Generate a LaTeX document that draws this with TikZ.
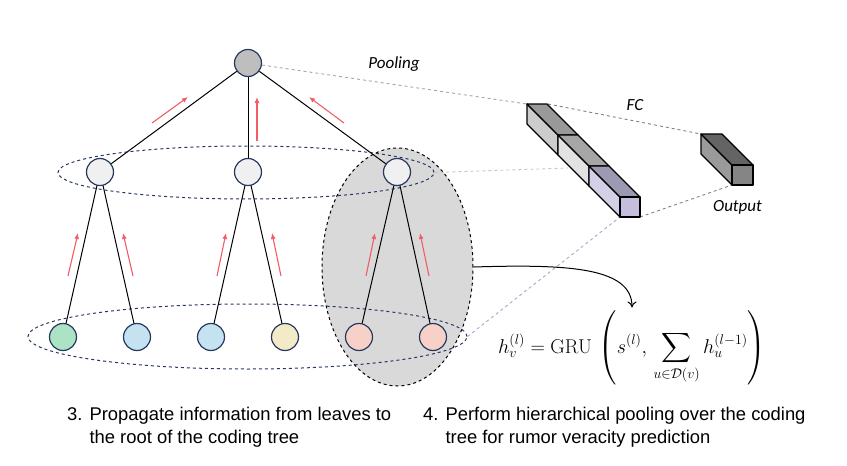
\documentclass[tikz,border=0pt]{standalone}
\usepackage{fix-cm}
\usepackage{amsmath}
\usepackage{exscale}
\usepackage[no-math]{fontspec}
\setmainfont{Liberation Sans}
\newfontfamily\labfont{Carlito}
\usepackage{tikz}
\usetikzlibrary{arrows.meta,shapes.geometric,positioning}

\definecolor{navy}{RGB}{38,56,96}
\definecolor{arrowred}{RGB}{242,92,102}
\definecolor{leafgreen}{RGB}{171,227,196}
\definecolor{leafblue}{RGB}{197,226,240}
\definecolor{leafyellow}{RGB}{243,234,199}
\definecolor{leafpink}{RGB}{247,209,200}
\definecolor{rootgray}{RGB}{190,190,190}
\definecolor{midgray}{RGB}{240,240,240}
\definecolor{shadegray}{RGB}{217,217,217}
\definecolor{lilac}{RGB}{168,168,200}
\definecolor{bartopa}{RGB}{153,153,153}
\definecolor{barsidea}{RGB}{204,204,204}
\definecolor{bartopb}{RGB}{166,166,166}
\definecolor{barsideb}{RGB}{226,226,226}
\definecolor{bartopc}{RGB}{156,153,179}
\definecolor{barsidec}{RGB}{211,207,230}
\definecolor{barfront}{RGB}{197,191,221}
\definecolor{outtop}{RGB}{100,100,100}
\definecolor{outside}{RGB}{154,154,154}
\definecolor{outfront}{RGB}{133,133,133}

\begin{document}
\begin{tikzpicture}[x=1pt,y=-1pt,
    vert/.style={circle, draw=navy, line width=1.2pt, minimum size=27pt, inner sep=0pt},
    edge/.style={black, line width=1pt},
    up/.style={arrowred, line width=1.1pt, -{Latex[length=6pt,width=5pt]}},
    level/.style={ellipse, draw=navy, dashed, line width=1pt, inner sep=0pt},
    guide/.style={dashed, line width=0.9pt},
    face/.style={draw=black, line width=1.3pt, line join=round},
    lab/.style={font=\labfont\itshape\fontsize{17}{20}\selectfont, inner sep=0pt},
    caption/.style={font=\fontsize{18.4}{23}\selectfont, inner sep=0pt, anchor=base west}]

  \useasboundingbox (0,0) rectangle (847,466);

  % Draw the shaded subtree
  \node[ellipse, fill=shadegray, draw=black, dashed, line width=1pt,
        minimum width=151pt, minimum height=238pt, inner sep=0pt] (shade) at (397.5,267) {};

  % Draw the level rings
  \node[level, minimum width=376pt, minimum height=53pt] (lvone) at (246,172.5) {};
  \node[level, minimum width=439pt, minimum height=65pt] (lvleaf) at (247.5,336.5) {};

  % Draw the tree nodes
  \node[vert, fill=rootgray] (root) at (248,63) {};
  \foreach \i/\x in {1/100,2/248,3/397}
    \node[vert, fill=midgray] (m\i) at (\x,172) {};
  \foreach \i/\x/\c in {1/63/leafgreen,2/137/leafblue,3/211/leafblue,
                        4/285/leafyellow,5/359/leafpink,6/433/leafpink}
    \node[vert, fill=\c] (l\i) at (\x,337) {};

  % Draw the edges
  \foreach \i in {1,2,3}
    \draw[edge] (root) -- (m\i);
  \foreach \i/\a/\b in {1/1/2,2/3/4,3/5/6} {
    \draw[edge] (m\i) -- (l\a);
    \draw[edge] (m\i) -- (l\b);
  }

  % Draw the red arrows
  \foreach \a/\b/\c/\d in {152/123/188/97, 257/141/257/97, 344/123/309/97,
                           68/276/78/233, 133/276/123/233, 217/276/226/233,
                           281/276/272/233, 366/276/375/233, 429/276/420/233}
    \draw[up] (\a,\b) -- (\c,\d);

  % Corners of the bars
  \coordinate (barback) at (527,104);
  \coordinate (barbtr) at (548,104);
  \coordinate (barmid) at (568,168);
  \coordinate (barfbl) at (620,217);
  \coordinate (barfbr) at (640,217);
  \coordinate (outbtl) at (701,134);
  \coordinate (outfbl) at (732,185);

  % Draw the dashed guides
  \draw[guide, gray!70] (root) -- (barback);
  \draw[guide, gray!45] (lvone.east) -- (barmid);
  \draw[guide, lilac] (lvleaf.east) -- (barfbl);
  \draw[guide, gray] (barbtr) -- (outbtl);
  \draw[guide, gray] (barfbr) -- (outfbl);

  % Draw the pooled bar: 3 blocks
  \foreach \k/\tc/\sc in {0/bartopa/barsidea,1/bartopb/barsideb,2/bartopc/barsidec} {
    \pgfmathsetmacro\bx{527+31*\k}
    \pgfmathsetmacro\by{104+31*\k}
    \filldraw[face, fill=\sc] (\bx,\by) -- ++(31,31) -- ++(0,20) -- ++(-31,-31) -- cycle;
    \filldraw[face, fill=\tc] (\bx,\by) -- ++(20,0) -- ++(31,31) -- ++(-20,0) -- cycle;
  }
  \filldraw[face, fill=barfront] (620,197) rectangle (640,217);

  % Draw the output block
  \filldraw[face, fill=outside] (701,134) -- ++(31,31) -- ++(0,20) -- ++(-31,-31) -- cycle;
  \filldraw[face, fill=outtop] (701,134) -- ++(21,0) -- ++(31,31) -- ++(-21,0) -- cycle;
  \filldraw[face, fill=outfront] (732,165) rectangle (753,185);

  % Labels
  \node[lab] (pool) at (394,64) {Pooling};
  \node[lab] (fc) at (635,105.5) {FC};
  \node[lab] (out) at (737.5,207.5) {Output};

  % Draw the formula
  \node[inner sep=3pt] (formula) at (632,348) {\fontsize{20}{24}\selectfont
    $\displaystyle h_v^{(l)} = \mathrm{GRU}\,\left(s^{(l)},\, \sum_{u\in\mathcal{D}(v)} h_u^{(l-1)}\right)$};
  \draw[-{To[length=6pt,width=9pt]}, line width=1pt]
    (shade.east) .. controls +(95,-3) and +(0,-40) .. (formula.north);

  % Captions
  \node[caption] (capl) at (67,420) {\begin{tabular}[t]{@{}l@{\hspace{7pt}}l@{}}
    3. & Propagate information from leaves to\\
       & the root of the coding tree\end{tabular}};
  \node[caption] (capr) at (423,420) {\begin{tabular}[t]{@{}l@{\hspace{7pt}}l@{}}
    4. & Perform hierarchical pooling over the coding\\
       & tree for rumor veracity prediction\end{tabular}};

\end{tikzpicture}
\end{document}
